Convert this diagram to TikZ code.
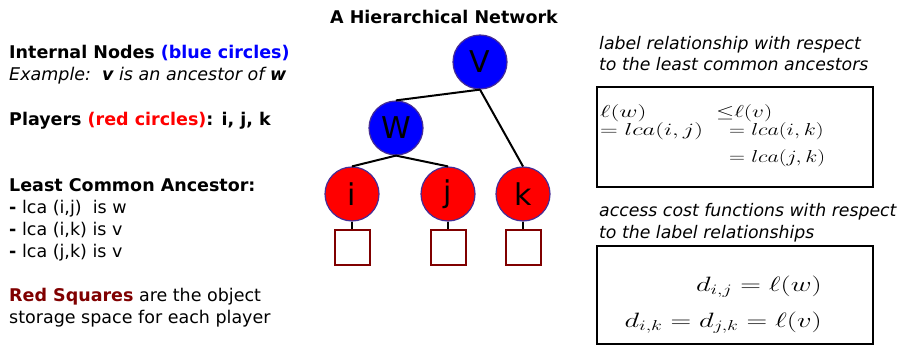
\documentclass[tikz,border=0pt]{standalone}
\usepackage{amsmath}
\usepackage{fontspec}
\setmainfont{DejaVu Sans}
\usetikzlibrary{
  positioning, % for the storage squares below the players
}

\definecolor{innerblue}{RGB}{0,0,255}
\definecolor{playerred}{RGB}{255,0,0}
\definecolor{storered}{RGB}{128,0,0}
\definecolor{rimcolor}{RGB}{70,45,150}

% math set a little wider than usual
\newcommand{\widemath}[2][1.35]{\scalebox{#1}[1]{$#2$}}

\tikzset{
  innernode/.style={circle, fill=innerblue, draw=rimcolor, line width=1.2pt,
    minimum size=54pt, inner sep=0pt, font=\fontsize{30}{30}\selectfont},
  playernode/.style={innernode, fill=playerred},
  storebox/.style={rectangle, draw=storered, line width=2pt,
    minimum size=35pt, inner sep=0pt},
  treeedge/.style={line width=2pt},
  infobox/.style={draw, line width=2.2pt, inner sep=0pt},
  mathtxt/.style={inner sep=0pt, anchor=west, font=\fontsize{18.5}{18.5}\selectfont},
  costtxt/.style={inner sep=0pt, anchor=east, font=\fontsize{21}{21}\selectfont},
  captxt/.style={inner sep=0pt, anchor=base west, align=left,
    font=\fontsize{17.3}{21}\selectfont\itshape},
}

\begin{document}
\begin{tikzpicture}[x=1pt, y=-1pt]
  \useasboundingbox (0,0) rectangle (909,347);

  % legend on the left (anchored at the baseline of its last line)
  \node [inner sep=0pt, anchor=base west, align=left,
         font=\fontsize{17.5}{22}\selectfont] (legend) at (9,323) {
    \textbf{Internal Nodes \textcolor{innerblue}{(blue circles)}}\\
    \textit{Example:~~\textbf{v} is an ancestor of \textbf{w}}\\[22pt]
    \textbf{Players \textcolor{playerred}{(red circles)}: i, j, k}\\[44pt]
    \textbf{Least Common Ancestor:}\\
    \textbf{-} lca (i,j)~~is w\\
    \textbf{-} lca (i,k) is v\\
    \textbf{-} lca (j,k) is v\\[22pt]
    \textbf{\textcolor{storered}{Red Squares}} are the object\\
    storage space for each player
  };

  % the tree
  \node [font=\fontsize{17.5}{17.5}\selectfont\bfseries] (title) at (444,17) {A Hierarchical Network};
  \node [innernode] (v) at (480,62) {V};
  \node [innernode] (w) at (396,128) {W};
  \node [playernode] (i) at (352,194) {i};
  \node [playernode] (j) at (448,194) {j};
  \node [playernode] (k) at (523,194) {k};
  \draw [treeedge] (v.south) -- (w.north);
  \draw [treeedge] (v.south) -- (k.north);
  \draw [treeedge] (w.south) -- (i.north);
  \draw [treeedge] (w.south) -- (j.north);

  % object storage of each player
  \foreach \p in {i,j,k} {
    \node [storebox, below = 7pt of \p] (s\p) {};
    \draw [treeedge] (\p.south) -- (s\p.north);
  }

  % label relationships
  \node [captxt] (lblcap) at (599,71) {label relationship with respect\\to the least common ancestors};
  \node [infobox, minimum width=276pt, minimum height=100pt] (lblbox) at (735,137) {};
  \node [mathtxt] (lw) at (600,113) {\widemath[1.45]{\ell(w)}};
  \node [mathtxt] (lv) at (716,113) {\widemath{\mathord{\leq}\ell(v)}};
  \node [mathtxt] (lij) at (600,131) {\widemath[1.42]{= lca(i,j)}};
  \node [mathtxt] (lik) at (729,131) {\widemath[1.28]{= lca(i,k)}};
  \node [mathtxt] (ljk) at (729,158) {\widemath[1.28]{= lca(j,k)}};

  % access costs
  \node [captxt] (costcap) at (599,238) {access cost functions with respect\\to the label relationships};
  \node [infobox, minimum width=276pt, minimum height=98pt] (costbox) at (735,295) {};
  \node [costtxt] (dij) at (822,287) {\widemath[1.38]{d_{i,j} = \ell(w)}};
  \node [costtxt] (dik) at (822,323) {\widemath[1.38]{d_{i,k} = d_{j,k} = \ell(v)}};
\end{tikzpicture}
\end{document}
